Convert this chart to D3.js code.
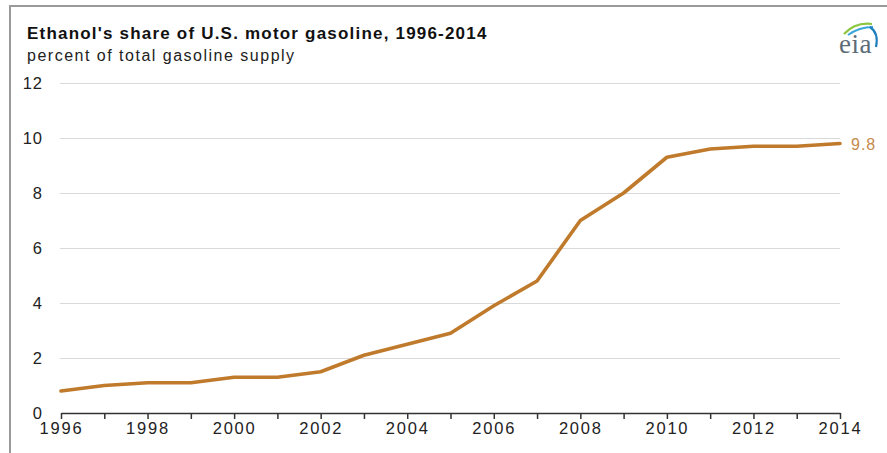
<!DOCTYPE html>
<html>
<head>
<meta charset="utf-8">
<script src="https://cdn.jsdelivr.net/npm/d3@7"></script>
<style>
  html, body { margin: 0; padding: 0; background: #fff; }
  svg { display: block; }
  text { font-family: "Liberation Sans", Arial, sans-serif; }
</style>
</head>
<body>
<svg id="chart" width="887" height="453"></svg>
<script>
// Ethanol share of U.S. motor gasoline supply, percent
const years = [1996, 1997, 1998, 1999, 2000, 2001, 2002, 2003, 2004, 2005,
               2006, 2007, 2008, 2009, 2010, 2011, 2012, 2013, 2014];
const ethanolShare = [0.8, 1.0, 1.1, 1.1, 1.3, 1.3, 1.5, 2.1, 2.5, 2.9,
                      3.9, 4.8, 7.0, 8.0, 9.3, 9.6, 9.7, 9.7, 9.8];
const yTicks = [0, 2, 4, 6, 8, 10, 12];
const xLabelYears = [1996, 1998, 2000, 2002, 2004, 2006, 2008, 2010, 2012, 2014];

const titleText = "Ethanol's share of U.S. motor gasoline, 1996-2014";
const subtitleText = "percent of total gasoline supply";
const lastLabel = "9.8";

const svg = d3.select("#chart");
const W = 887, H = 453;
const plot = { left: 61, right: 840, top: 83, bottom: 413 };

// frame
svg.append("line").attr("x1", 9).attr("x2", W).attr("y1", 6).attr("y2", 6)
  .attr("stroke", "#9a9a9a").attr("stroke-width", 2);
svg.append("line").attr("x1", 10).attr("x2", 10).attr("y1", 5).attr("y2", H)
  .attr("stroke", "#9a9a9a").attr("stroke-width", 2);

// titles
svg.append("text").attr("x", 27).attr("y", 39)
  .attr("font-size", 17).attr("font-weight", "bold").attr("fill", "#111")
  .attr("letter-spacing", 1.2)
  .text(titleText);
svg.append("text").attr("x", 27).attr("y", 61)
  .attr("font-size", 16).attr("fill", "#222").attr("letter-spacing", 1.5)
  .text(subtitleText);

// eia logo
const logo = svg.append("g").attr("transform", "translate(838,0)");
logo.append("path").attr("d", "M6,34 Q17,22 34,24").attr("fill", "none")
  .attr("stroke", "#8cc63f").attr("stroke-width", 2.2);
logo.append("path").attr("d", "M10,35 Q21,27 35,27").attr("fill", "none")
  .attr("stroke", "#3aa7d8").attr("stroke-width", 2);
logo.append("path").attr("d", "M32,27 Q41,33 38,47").attr("fill", "none")
  .attr("stroke", "#1f7fbf").attr("stroke-width", 2.2);
logo.append("text").attr("x", 1).attr("y", 53)
  .style("font-family", "'Liberation Serif', 'DejaVu Serif', serif")
  .attr("font-size", 27).attr("fill", "#5d6b78").attr("letter-spacing", 0.5)
  .text("eia");

const x = d3.scaleLinear().domain([1996, 2014]).range([plot.left, plot.right]);
const y = d3.scaleLinear().domain([0, 12]).range([plot.bottom, plot.top]);

// gridlines
svg.append("g").selectAll("line").data(yTicks.filter(d => d > 0)).join("line")
  .attr("x1", plot.left - 1).attr("x2", plot.right)
  .attr("y1", d => Math.round(y(d)) + 0.5).attr("y2", d => Math.round(y(d)) + 0.5)
  .attr("stroke", "#d9d9d9").attr("stroke-width", 1);

// y tick labels
svg.append("g").selectAll("text").data(yTicks).join("text")
  .attr("x", 43).attr("y", d => y(d) + 6)
  .attr("text-anchor", "end").attr("font-size", 16.5).attr("fill", "#222")
  .attr("letter-spacing", 1)
  .text(d => d);

// x axis
const xAxis = d3.axisBottom(x)
  .tickValues(years).tickSize(6).tickSizeOuter(0)
  .tickFormat(d => xLabelYears.includes(d) ? d : "");
const gx = svg.append("g").attr("transform", `translate(0,${plot.bottom})`).call(xAxis);
gx.select(".domain").attr("stroke", "#333").attr("stroke-width", 1.5);
gx.selectAll(".tick line").attr("stroke", "#333").attr("stroke-width", 1.5);
gx.selectAll(".tick text").attr("font-size", 16.5).attr("fill", "#222")
  .style("font-family", "'Liberation Sans', Arial, sans-serif")
  .attr("letter-spacing", 1.8).attr("dy", "0.9em").attr("y", 6);

// ethanol share line
const line = d3.line().x((d, i) => x(years[i])).y(d => y(d));
svg.append("path").datum(ethanolShare)
  .attr("d", line).attr("fill", "none")
  .attr("stroke", "#c07a2c").attr("stroke-width", 3.6)
  .attr("stroke-linejoin", "round").attr("stroke-linecap", "round");

// end label
svg.append("text").attr("x", x(2014) + 11).attr("y", y(ethanolShare[ethanolShare.length - 1]) + 6)
  .attr("font-size", 16).attr("fill", "#c58a4c").attr("letter-spacing", 1)
  .text(lastLabel);
</script>
</body>
</html>
